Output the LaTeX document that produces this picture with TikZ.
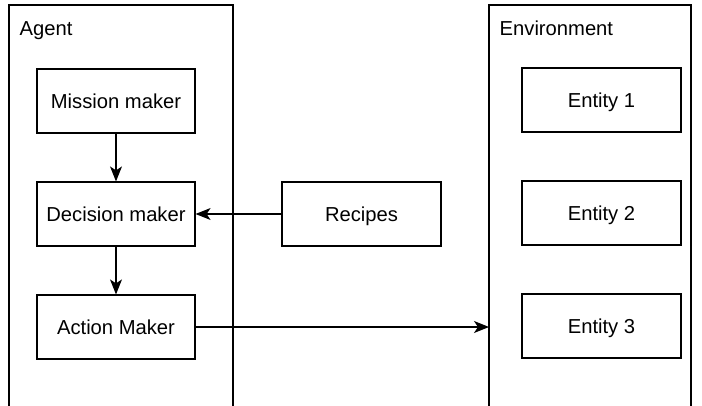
\documentclass[tikz,border=0pt]{standalone}
\usepackage{fontspec}
\setmainfont{Liberation Sans}
\usetikzlibrary{arrows.meta}
\begin{document}
\begin{tikzpicture}[x=1pt,y=-1pt,
  every node/.style={font=\fontsize{20.2}{24}\selectfont},
  box/.style={draw,line width=1.2pt,minimum height=64pt,inner sep=0pt,text depth=0pt,text height=14.5pt},
  conn/.style={line width=1.2pt,-{Stealth[length=15pt,width=12pt,inset=4pt]}},
  frame/.style={line width=1.2pt}]
\useasboundingbox (0,0) rectangle (702,405);
% frames (cut off at bottom)
\coordinate (agTL) at (9,5);
\coordinate (agTR) at (233,5);
\coordinate (envL) at (489,5);
\coordinate (envR) at (691,5);
\draw[frame] (9,407) -- (agTL) -- (agTR) -- (233,407);
\draw[frame] (489,407) -- (envL) -- (envR) -- (691,407);
\node[anchor=base west,inner sep=0pt] (aglabel) at (19.5,35) {Agent};
\node[anchor=base west,inner sep=0pt] (envlabel) at (499.5,35) {Environment};
% agent boxes
\node[box,minimum width=158pt] (mission) at (116,101) {Mission maker};
\node[box,minimum width=158pt] (decision) at (116,214) {Decision maker};
\node[box,minimum width=158pt] (action) at (116,327) {Action Maker};
\node[box,minimum width=159pt] (recipes) at (361.5,214) {Recipes};
% environment entities
\node[box,minimum width=159pt] (e1) at (601.5,100) {Entity 1};
\node[box,minimum width=159pt] (e2) at (601.5,213) {Entity 2};
\node[box,minimum width=159pt] (e3) at (601.5,326) {Entity 3};
% connectors
\draw[conn] (mission) -- (decision);
\draw[conn] (decision) -- (action);
\draw[conn] (recipes) -- (decision);
\draw[conn] (action) -- (action -| envL);
\end{tikzpicture}
\end{document}
